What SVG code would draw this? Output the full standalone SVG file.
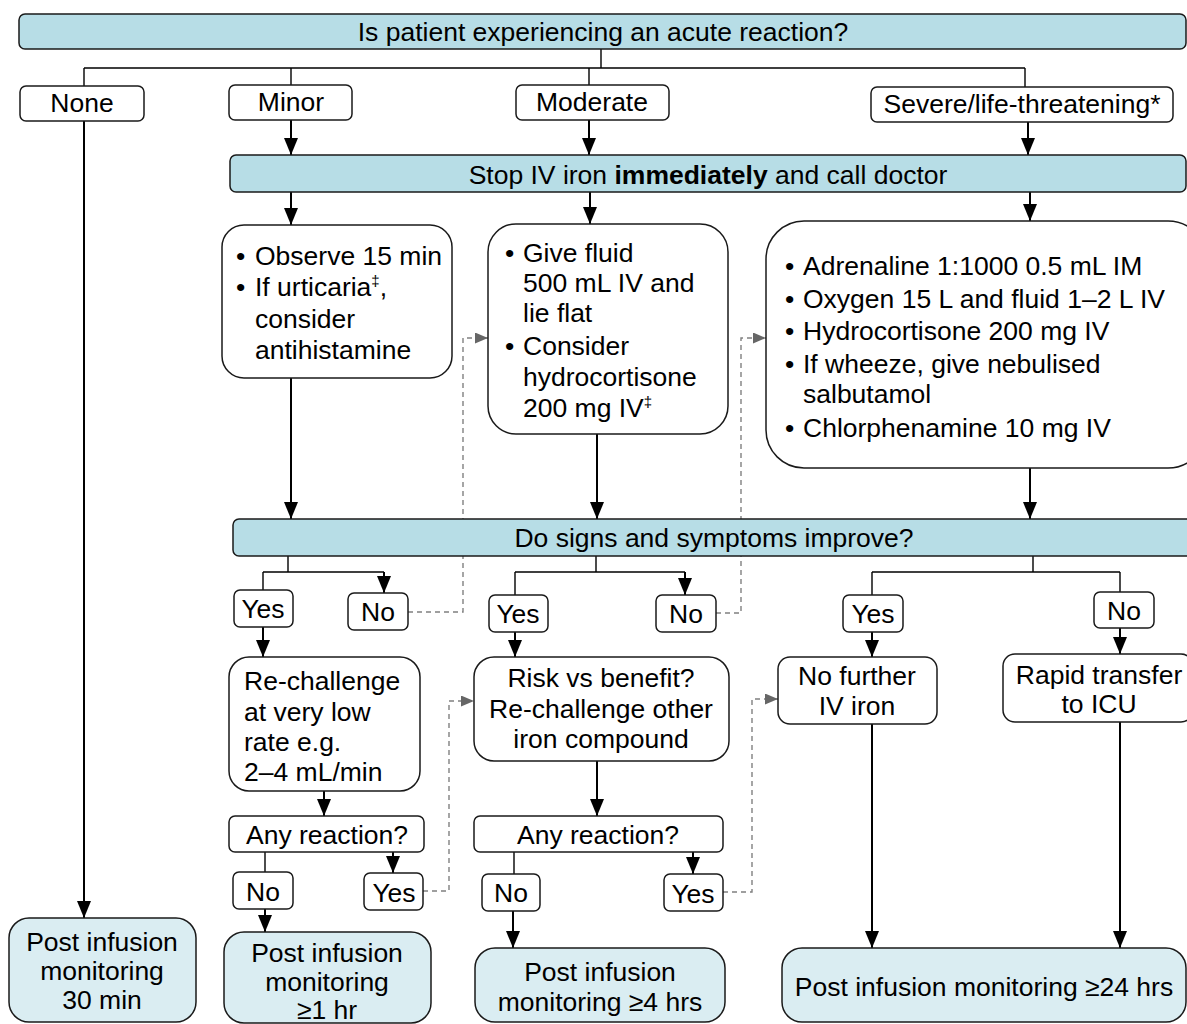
<svg xmlns="http://www.w3.org/2000/svg" width="1187" height="1024" viewBox="0 0 1187 1024">
<style>
.bar{fill:#b7dde6;stroke:#1a1a1a;stroke-width:1.5}
.end{fill:#daedf2;stroke:#1a1a1a;stroke-width:1.5}
.box{fill:#fff;stroke:#1a1a1a;stroke-width:1.5}
text{font-family:"Liberation Sans",Arial,sans-serif;font-size:26.5px;fill:#000}
.c{text-anchor:middle}
.ln{stroke:#000;stroke-width:2;fill:none}
.th{stroke:#000;stroke-width:1.4;fill:none}
.ds{stroke:#808080;stroke-width:1.4;stroke-dasharray:5 4;fill:none}
.sup{font-size:15px;fill:#000}
</style>
<defs>
<marker id="ah" viewBox="0 0 17 14" refX="17" refY="7" markerWidth="17" markerHeight="14" markerUnits="userSpaceOnUse" orient="auto"><path d="M0,0 L17,7 L0,14 Z" fill="#000"/></marker>
<marker id="ag" viewBox="0 0 13 11" refX="13" refY="5.5" markerWidth="13" markerHeight="11" markerUnits="userSpaceOnUse" orient="auto"><path d="M0,0 L13,5.5 L0,11 Z" fill="#666"/></marker>
</defs>

<g id="connectors">
<path class="th" d="M601,49 V68 M84,68 H1025 M84,68 V86 M291,68 V85 M589,68 V85 M1025,68 V87"/>
<path class="ln" d="M84,121 V918" marker-end="url(#ah)"/>
<path class="ln" d="M291,120 V155" marker-end="url(#ah)"/>
<path class="ln" d="M589,120 V155" marker-end="url(#ah)"/>
<path class="ln" d="M1028,122 V155" marker-end="url(#ah)"/>
<path class="ln" d="M291,192 V225" marker-end="url(#ah)"/>
<path class="ln" d="M590,192 V224" marker-end="url(#ah)"/>
<path class="ln" d="M1030,192 V221" marker-end="url(#ah)"/>
<path class="ln" d="M291,378 V519" marker-end="url(#ah)"/>
<path class="ln" d="M597,434 V519" marker-end="url(#ah)"/>
<path class="ln" d="M1030,468 V519" marker-end="url(#ah)"/>
<path class="th" d="M288,556 V572 M263,572 H384 M263,572 V590 M596,556 V572 M515,572 H685 M515,572 V595 M1033,556 V572 M872,572 H1120 M872,572 V595 M1120,572 V592"/>
<path class="ln" d="M384,572 V593" marker-end="url(#ah)"/>
<path class="ln" d="M685,572 V595" marker-end="url(#ah)"/>
<path class="ln" d="M263,627 V657" marker-end="url(#ah)"/>
<path class="ln" d="M515,632 V657" marker-end="url(#ah)"/>
<path class="ln" d="M872,632 V657" marker-end="url(#ah)"/>
<path class="ln" d="M1120,628 V654" marker-end="url(#ah)"/>
<path class="ds" d="M408,612 H463 V338 H488" marker-end="url(#ag)"/>
<path class="ds" d="M716,613 H741 V338 H766" marker-end="url(#ag)"/>
<path class="ds" d="M423,891 H449 V701 H474" marker-end="url(#ag)"/>
<path class="ds" d="M723,892 H752 V699 H778" marker-end="url(#ag)"/>
<path class="ln" d="M324,791 V816" marker-end="url(#ah)"/>
<path class="th" d="M265,852 V872"/>
<path class="ln" d="M393,852 V873" marker-end="url(#ah)"/>
<path class="ln" d="M265,909 V932" marker-end="url(#ah)"/>
<path class="ln" d="M597,761 V816" marker-end="url(#ah)"/>
<path class="th" d="M514,852 V874"/>
<path class="ln" d="M693,852 V874" marker-end="url(#ah)"/>
<path class="ln" d="M513,911 V948" marker-end="url(#ah)"/>
<path class="ln" d="M872,724 V948" marker-end="url(#ah)"/>
<path class="ln" d="M1120,722 V948" marker-end="url(#ah)"/>
</g>

<g id="q1"><rect class="bar" x="19" y="14" width="1167" height="35" rx="6"/><text class="c" x="603" y="41">Is patient experiencing an acute reaction?</text></g>
<g id="none"><rect class="box" x="20" y="86" width="124" height="35" rx="6"/><text class="c" x="82" y="112">None</text></g>
<g id="minor"><rect class="box" x="229" y="85" width="123" height="35" rx="6"/><text class="c" x="291" y="111">Minor</text></g>
<g id="moderate"><rect class="box" x="516" y="85" width="153" height="35" rx="6"/><text class="c" x="592" y="111">Moderate</text></g>
<g id="severe"><rect class="box" x="871" y="87" width="302" height="35" rx="6"/><text class="c" x="1022" y="113">Severe/life-threatening*</text></g>
<g id="stop"><rect class="bar" x="230" y="155" width="956" height="37" rx="6"/><text class="c" x="708" y="184">Stop IV iron <tspan font-weight="bold">immediately</tspan> and call doctor</text></g>

<g id="minorAct"><rect class="box" x="222" y="225" width="230" height="153" rx="22"/>
<text x="236" y="265">•</text><text x="255" y="265">Observe 15 min</text>
<text x="236" y="296">•</text><text x="255" y="296">If urticaria<tspan class="sup" dy="-10">‡</tspan><tspan dy="10">,</tspan></text>
<text x="255" y="328">consider</text><text x="255" y="359">antihistamine</text></g>

<g id="modAct"><rect class="box" x="488" y="224" width="240" height="210" rx="28"/>
<text x="505" y="262">•</text><text x="523" y="262">Give fluid</text>
<text x="523" y="292">500 mL IV and</text><text x="523" y="322">lie flat</text>
<text x="505" y="355">•</text><text x="523" y="355">Consider</text>
<text x="523" y="386">hydrocortisone</text>
<text x="523" y="417">200 mg IV<tspan class="sup" dy="-10">‡</tspan></text></g>

<g id="sevAct"><rect class="box" x="766" y="221" width="440" height="247" rx="38"/>
<text x="785" y="275">•</text><text x="803" y="275">Adrenaline 1:1000 0.5 mL IM</text>
<text x="785" y="308">•</text><text x="803" y="308">Oxygen 15 L and fluid 1–2 L IV</text>
<text x="785" y="340">•</text><text x="803" y="340">Hydrocortisone 200 mg IV</text>
<text x="785" y="373">•</text><text x="803" y="373">If wheeze, give nebulised</text>
<text x="803" y="403">salbutamol</text>
<text x="785" y="437">•</text><text x="803" y="437">Chlorphenamine 10 mg IV</text></g>

<g id="q2"><rect class="bar" x="233" y="519" width="960" height="37" rx="6"/><text class="c" x="714" y="547">Do signs and symptoms improve?</text></g>

<g id="yesA"><rect class="box" x="234" y="590" width="59" height="37" rx="6"/><text class="c" x="263" y="618">Yes</text></g>
<g id="noA"><rect class="box" x="348" y="593" width="60" height="37" rx="6"/><text class="c" x="378" y="621">No</text></g>
<g id="yesB"><rect class="box" x="489" y="595" width="59" height="37" rx="6"/><text class="c" x="518" y="623">Yes</text></g>
<g id="noB"><rect class="box" x="656" y="595" width="60" height="37" rx="6"/><text class="c" x="686" y="623">No</text></g>
<g id="yesC"><rect class="box" x="843" y="595" width="60" height="37" rx="6"/><text class="c" x="873" y="623">Yes</text></g>
<g id="noC"><rect class="box" x="1094" y="592" width="60" height="36" rx="6"/><text class="c" x="1124" y="620">No</text></g>

<g id="rechallenge"><rect class="box" x="229" y="657" width="191" height="134" rx="20"/>
<text x="244" y="690">Re-challenge</text><text x="244" y="721">at very low</text><text x="244" y="751">rate e.g.</text><text x="244" y="781">2–4 mL/min</text></g>
<g id="anyA"><rect class="box" x="229" y="816" width="195" height="36" rx="6"/><text class="c" x="327" y="844">Any reaction?</text></g>
<g id="noA2"><rect class="box" x="233" y="872" width="60" height="37" rx="6"/><text class="c" x="263" y="901">No</text></g>
<g id="yesA2"><rect class="box" x="364" y="873" width="59" height="37" rx="6"/><text class="c" x="394" y="902">Yes</text></g>

<g id="risk"><rect class="box" x="474" y="657" width="255" height="104" rx="20"/>
<text class="c" x="601" y="687">Risk vs benefit?</text><text class="c" x="601" y="718">Re-challenge other</text><text class="c" x="601" y="748">iron compound</text></g>
<g id="anyB"><rect class="box" x="474" y="816" width="249" height="36" rx="6"/><text class="c" x="598" y="844">Any reaction?</text></g>
<g id="noB2"><rect class="box" x="482" y="874" width="58" height="37" rx="6"/><text class="c" x="511" y="902">No</text></g>
<g id="yesB2"><rect class="box" x="664" y="874" width="59" height="37" rx="6"/><text class="c" x="693" y="903">Yes</text></g>

<g id="nofurther"><rect class="box" x="778" y="657" width="159" height="67" rx="12"/>
<text class="c" x="857" y="685">No further</text><text class="c" x="857" y="715">IV iron</text></g>
<g id="icu"><rect class="box" x="1003" y="654" width="190" height="68" rx="12"/>
<text class="c" x="1099" y="684">Rapid transfer</text><text class="c" x="1099" y="713">to ICU</text></g>

<g id="post30"><rect class="end" x="9" y="918" width="187" height="104" rx="20"/>
<text class="c" x="102" y="951">Post infusion</text><text class="c" x="102" y="980">monitoring</text><text class="c" x="102" y="1009">30 min</text></g>
<g id="post1"><rect class="end" x="224" y="932" width="207" height="91" rx="20"/>
<text class="c" x="327" y="962">Post infusion</text><text class="c" x="327" y="991">monitoring</text><text class="c" x="327" y="1019">≥1 hr</text></g>
<g id="post4"><rect class="end" x="475" y="948" width="250" height="74" rx="20"/>
<text class="c" x="600" y="981">Post infusion</text><text class="c" x="600" y="1011">monitoring ≥4 hrs</text></g>
<g id="post24"><rect class="end" x="782" y="948" width="404" height="74" rx="20"/>
<text class="c" x="984" y="996">Post infusion monitoring ≥24 hrs</text></g>
</svg>
